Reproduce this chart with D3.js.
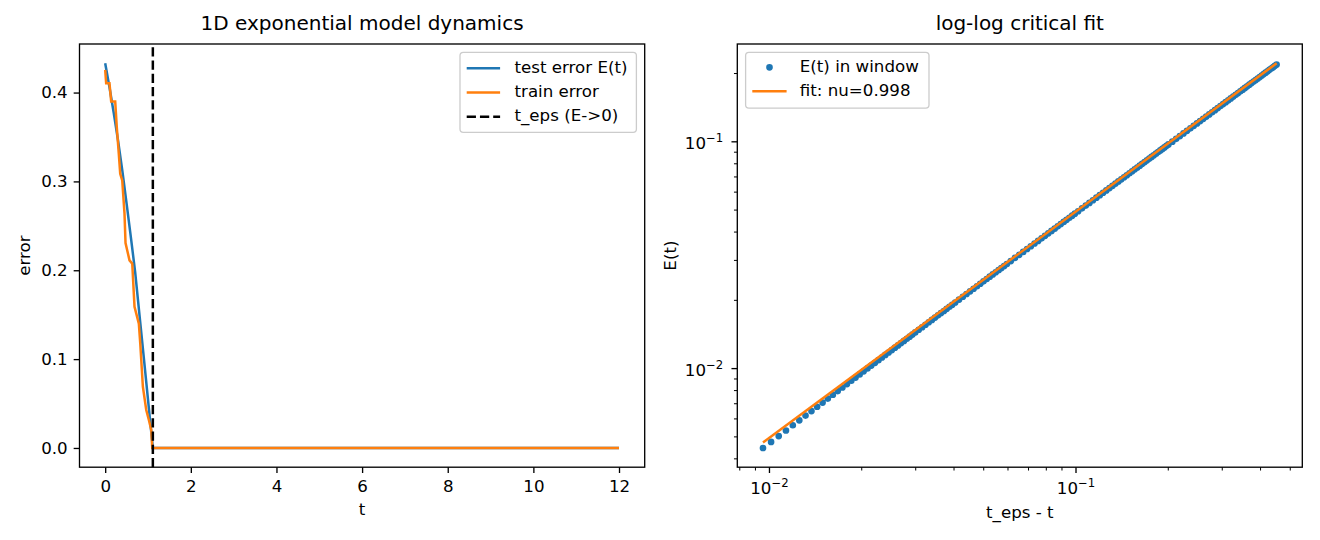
<!DOCTYPE html>
<html>
<head>
<meta charset="utf-8">
<script src="https://cdn.jsdelivr.net/npm/d3@7"></script>
<style>
  body { margin: 0; background: #fff; }
  svg text { font-family: "DejaVu Sans", sans-serif; fill: #000; }
</style>
</head>
<body>
<script>
// ---- data ----
const testT = [0, 0.1, 0.2, 0.3, 0.4, 0.5, 0.6, 0.7, 0.8, 0.9, 1.0, 1.05, 1.08, 1.1, 1.113, 12];
const testE = [0.433, 0.406, 0.377, 0.346, 0.312, 0.275, 0.237, 0.198, 0.150, 0.1025, 0.0543, 0.0303, 0.0159, 0.0063, 0, 0];

const trainT = [0, 0.023, 0.10, 0.14, 0.234, 0.271, 0.318, 0.351, 0.398, 0.451, 0.475, 0.568, 0.632, 0.685, 0.786, 0.819, 0.88, 0.959, 1.02, 1.076, 1.099, 12];
const trainE = [0.4255, 0.4104, 0.4104, 0.390, 0.390, 0.361, 0.331, 0.3087, 0.301, 0.2637, 0.2307, 0.2112, 0.2075, 0.1588, 0.140, 0.1176, 0.0689, 0.0427, 0.0315, 0.0202, 0, 0];

const tEps = 1.113;
const xTicksLeft = [0, 2, 4, 6, 8, 10, 12];
const yTicksLeft = [0, 0.1, 0.2, 0.3, 0.4];

// points in the fitting window: t_eps - t, E(t)
const winGap = [
  0.00956, 0.01016, 0.01076, 0.01136, 0.01196, 0.01256, 0.01316, 0.01376, 0.01436, 0.01496,
  0.01556, 0.01616, 0.01676, 0.01736, 0.01796, 0.01856, 0.01916, 0.01976, 0.02036, 0.02096,
  0.02156, 0.02216, 0.02276, 0.02336, 0.02396, 0.02456, 0.02516, 0.02576, 0.02636, 0.02696,
  0.02756, 0.02816, 0.02876, 0.02936,
  0.0300, 0.0308, 0.0316, 0.0324, 0.0332, 0.0340, 0.0348, 0.0356, 0.0364, 0.0372, 0.0380, 0.0388, 0.0396,
  0.0405, 0.0417, 0.0429, 0.0441, 0.0453, 0.0465, 0.0477, 0.0489, 0.0501, 0.0513, 0.0525, 0.0537,
  0.0549, 0.0561, 0.0573, 0.0585, 0.0597,
  0.0615, 0.0635, 0.0655, 0.0675, 0.0695, 0.0715, 0.0735, 0.0755, 0.0775, 0.0795, 0.0815, 0.0835,
  0.0855, 0.0875, 0.0895, 0.0915, 0.0935, 0.0955, 0.0975, 0.0995,
  0.102, 0.105, 0.108, 0.111, 0.114, 0.117, 0.120, 0.123, 0.126, 0.129, 0.132, 0.135, 0.138, 0.141,
  0.144, 0.147, 0.150, 0.153, 0.156, 0.159, 0.162, 0.165, 0.168, 0.171, 0.174, 0.177, 0.180, 0.183,
  0.186, 0.189, 0.192, 0.195, 0.198, 0.201,
  0.207, 0.213, 0.219, 0.225, 0.231, 0.237, 0.243, 0.249, 0.255, 0.261, 0.267, 0.273, 0.279, 0.285,
  0.291, 0.297, 0.303, 0.309, 0.315, 0.321, 0.327, 0.333, 0.339, 0.345, 0.351, 0.357, 0.363, 0.369,
  0.375, 0.381, 0.387, 0.393, 0.399, 0.405, 0.411, 0.417, 0.423, 0.429, 0.435, 0.441, 0.447, 0.453
];
const winE = [
  0.004445, 0.004727, 0.005016, 0.005308, 0.005597, 0.005886, 0.006173, 0.006463, 0.006755, 0.007046,
  0.007338, 0.007629, 0.007922, 0.008213, 0.008504, 0.008794, 0.009086, 0.009382, 0.009675, 0.009967,
  0.010258, 0.01055, 0.010843, 0.011136, 0.011429, 0.01172, 0.012011, 0.012303, 0.012595, 0.012887,
  0.013179, 0.013472, 0.013765, 0.014058,
  0.01437, 0.014756, 0.015146, 0.015536, 0.015923, 0.016313, 0.016701, 0.017088, 0.017476, 0.017863, 0.018251, 0.01864, 0.019028,
  0.019464, 0.020045, 0.020631, 0.021212, 0.021794, 0.02238, 0.022963, 0.023545, 0.024128, 0.024711, 0.025295, 0.025878,
  0.026456, 0.02704, 0.027619, 0.028197, 0.028775,
  0.029643, 0.030607, 0.031571, 0.032535, 0.033499, 0.034463, 0.035427, 0.036391, 0.037355, 0.038319, 0.039283, 0.040247,
  0.041211, 0.042175, 0.043139, 0.044103, 0.045067, 0.046031, 0.046995, 0.047959,
  0.04918, 0.05063, 0.05208, 0.05352, 0.05497, 0.05642, 0.05786, 0.05931, 0.06076, 0.0622, 0.06365, 0.0651, 0.06654, 0.06799,
  0.06944, 0.07088, 0.07233, 0.07378, 0.07522, 0.07667, 0.07812, 0.07956, 0.08101, 0.08246, 0.0839, 0.08535, 0.0868, 0.08824,
  0.08969, 0.09114, 0.09258, 0.09403, 0.09548, 0.09692,
  0.09967, 0.10256, 0.10545, 0.10834, 0.11123, 0.11412, 0.117, 0.11989, 0.12278, 0.12567, 0.12856, 0.13145, 0.13434, 0.13723,
  0.14012, 0.14301, 0.14589, 0.14878, 0.15167, 0.15456, 0.15745, 0.16034, 0.16323, 0.16612, 0.16901, 0.1719, 0.17478, 0.17767,
  0.18056, 0.18345, 0.18634, 0.18923, 0.19212, 0.19501, 0.1979, 0.20079, 0.20367, 0.20656, 0.20945, 0.21234, 0.21523, 0.21812
];

// fitted power law, end points of the line
const fitGap = [0.00956, 0.453];
const fitE = [0.004697, 0.22094];
const fitNu = 0.998;

const majorLog = [0.001, 0.01, 0.1, 1];

// ---- layout ----
const blue = '#1f77b4', orange = '#ff7f0e';
const FS = 16.67;
const L = { x0: 79.5, x1: 644.7, y0: 44, y1: 467.2 };
const R = { x0: 737.3, x1: 1302.3, y0: 44, y1: 467.2 };

const svg = d3.select('body').append('svg')
  .attr('width', 1320)
  .attr('height', 540);

const padLin = (lo, hi) => [lo - 0.05 * (hi - lo), hi + 0.05 * (hi - lo)];
const padLog = (lo, hi) => {
  const a = Math.log10(lo), b = Math.log10(hi), m = 0.05 * (b - a);
  return [Math.pow(10, a - m), Math.pow(10, b + m)];
};

const styleAxis = function(g, w) {
  g.attr('font-family', 'DejaVu Sans').attr('font-size', FS);
  g.select('.domain').remove();
  g.selectAll('.tick line').attr('stroke', '#000').attr('stroke-width', w || 1.33);
};

const frame = function(b) {
  svg.append('rect')
    .attr('x', b.x0).attr('y', b.y0)
    .attr('width', b.x1 - b.x0).attr('height', b.y1 - b.y0)
    .attr('fill', 'none').attr('stroke', '#000').attr('stroke-width', 1.33);
};

// ---- left panel ----
const xL = d3.scaleLinear().domain(padLin(0, 12)).range([L.x0, L.x1]);
const yL = d3.scaleLinear().domain(padLin(0, d3.max(testE))).range([L.y1, L.y0]);

const lineL = (ts, es) => d3.line().x((d, i) => xL(ts[i])).y((d, i) => yL(es[i]))(ts);

svg.append('path').attr('d', lineL(testT, testE))
  .attr('fill', 'none').attr('stroke', blue).attr('stroke-width', 2.5);
svg.append('path').attr('d', lineL(trainT, trainE))
  .attr('fill', 'none').attr('stroke', orange).attr('stroke-width', 2.5);
svg.append('line')
  .attr('x1', xL(tEps)).attr('x2', xL(tEps))
  .attr('y1', L.y1).attr('y2', L.y0)
  .attr('stroke', '#000').attr('stroke-width', 2.5)
  .attr('stroke-dasharray', '9.25,4');

svg.append('g').attr('transform', `translate(0,${L.y1})`)
  .call(d3.axisBottom(xL).tickValues(xTicksLeft).tickSize(5.83).tickPadding(6.7).tickFormat(d3.format('d')))
  .call(styleAxis);
svg.append('g').attr('transform', `translate(${L.x0},0)`)
  .call(d3.axisLeft(yL).tickValues(yTicksLeft).tickSize(5.83).tickPadding(6).tickFormat(d3.format('.1f')))
  .call(styleAxis);
frame(L);

svg.append('text').attr('x', (L.x0 + L.x1) / 2).attr('y', 29.5)
  .attr('text-anchor', 'middle').attr('font-size', 20)
  .text('1D exponential model dynamics');
svg.append('text').attr('x', (L.x0 + L.x1) / 2).attr('y', 515)
  .attr('text-anchor', 'middle').attr('font-size', FS).text('t');
svg.append('text')
  .attr('transform', `translate(30,${(L.y0 + L.y1) / 2}) rotate(-90)`)
  .attr('text-anchor', 'middle').attr('font-size', FS).text('error');

// ---- right panel ----
const xR = d3.scaleLog()
  .domain(padLog(d3.min(winGap.concat(fitGap)), d3.max(winGap.concat(fitGap))))
  .range([R.x0, R.x1]);
const yR = d3.scaleLog()
  .domain(padLog(d3.min(winE.concat(fitE)), d3.max(winE.concat(fitE))))
  .range([R.y1, R.y0]);

svg.append('g').selectAll('circle')
  .data(winGap)
  .enter()
  .append('circle')
  .attr('cx', d => xR(d))
  .attr('cy', (d, i) => yR(winE[i]))
  .attr('r', 2.5)
  .attr('fill', blue).attr('stroke', blue).attr('stroke-width', 1.67);

svg.append('path')
  .attr('d', d3.line().x((d, i) => xR(fitGap[i])).y((d, i) => yR(fitE[i]))(fitGap))
  .attr('fill', 'none').attr('stroke', orange).attr('stroke-width', 2.5);

const inDom = (s, v) => v >= s.domain()[0] && v <= s.domain()[1];
const minorOf = s => {
  const out = [];
  majorLog.forEach(m => { for (let k = 2; k <= 9; k++) { if (inDom(s, m * k)) out.push(m * k); } });
  return out;
};
const majorOf = s => majorLog.filter(v => inDom(s, v));

const supLabel = function(sel) {
  sel.each(function(d) {
    const t = d3.select(this);
    t.text(null);
    t.append('tspan').text('10');
    t.append('tspan').attr('dy', -7).attr('font-size', 11.7)
      .text('\u2212' + Math.round(-Math.log10(d)));
  });
};

svg.append('g').attr('transform', `translate(0,${R.y1})`)
  .call(d3.axisBottom(xR).tickValues(minorOf(xR)).tickSize(3.33).tickFormat(''))
  .call(g => styleAxis(g, 1));
svg.append('g').attr('transform', `translate(0,${R.y1})`)
  .call(d3.axisBottom(xR).tickValues(majorOf(xR)).tickSize(5.83))
  .call(styleAxis)
  .call(g => g.selectAll('.tick text').attr('y', 494.3 - R.y1).attr('dy', null).call(supLabel));

svg.append('g').attr('transform', `translate(${R.x0},0)`)
  .call(d3.axisLeft(yR).tickValues(minorOf(yR)).tickSize(3.33).tickFormat(''))
  .call(g => styleAxis(g, 1));
svg.append('g').attr('transform', `translate(${R.x0},0)`)
  .call(d3.axisLeft(yR).tickValues(majorOf(yR)).tickSize(5.83))
  .call(styleAxis)
  .call(g => g.selectAll('.tick text').attr('x', 723.3 - R.x0).attr('dy', 7.3).call(supLabel));
frame(R);

svg.append('text').attr('x', (R.x0 + R.x1) / 2).attr('y', 29.5)
  .attr('text-anchor', 'middle').attr('font-size', 20)
  .text('log-log critical fit');
svg.append('text').attr('x', (R.x0 + R.x1) / 2).attr('y', 517.6)
  .attr('text-anchor', 'middle').attr('font-size', FS).text('t_eps - t');
svg.append('text')
  .attr('transform', `translate(675.5,${(R.y0 + R.y1) / 2}) rotate(-90)`)
  .attr('text-anchor', 'middle').attr('font-size', FS).text('E(t)');

// ---- legends ----
const legendBox = function(x, y, w, h) {
  svg.append('rect').attr('x', x).attr('y', y).attr('width', w).attr('height', h)
    .attr('rx', 3.3).attr('ry', 3.3)
    .attr('fill', '#fff').attr('fill-opacity', 0.8)
    .attr('stroke', '#cccccc').attr('stroke-width', 1.3);
};

const legL = [
  { label: 'test error E(t)', color: blue, dash: null },
  { label: 'train error', color: orange, dash: null },
  { label: 't_eps (E->0)', color: '#000', dash: '9.25,4' }
];
legendBox(460, 52.3, 176.4, 80);
legL.forEach((d, i) => {
  const cy = 68.3 + i * 24.2;
  svg.append('line').attr('x1', 466.7).attr('x2', 500.1).attr('y1', cy).attr('y2', cy)
    .attr('stroke', d.color).attr('stroke-width', 2.5).attr('stroke-dasharray', d.dash);
  svg.append('text').attr('x', 514.5).attr('y', cy + 4.5).attr('font-size', FS).text(d.label);
});

legendBox(745.6, 52.3, 183.4, 55.8);
svg.append('circle').attr('cx', 769.5).attr('cy', 67.3).attr('r', 2.5)
  .attr('fill', blue).attr('stroke', blue).attr('stroke-width', 1.67);
svg.append('text').attr('x', 799.8).attr('y', 71.8).attr('font-size', FS).text('E(t) in window');
svg.append('line').attr('x1', 752.3).attr('x2', 786.6).attr('y1', 91.3).attr('y2', 91.3)
  .attr('stroke', orange).attr('stroke-width', 2.5);
svg.append('text').attr('x', 799.8).attr('y', 95.8).attr('font-size', FS).text('fit: nu=' + fitNu);
</script>
</body>
</html>
